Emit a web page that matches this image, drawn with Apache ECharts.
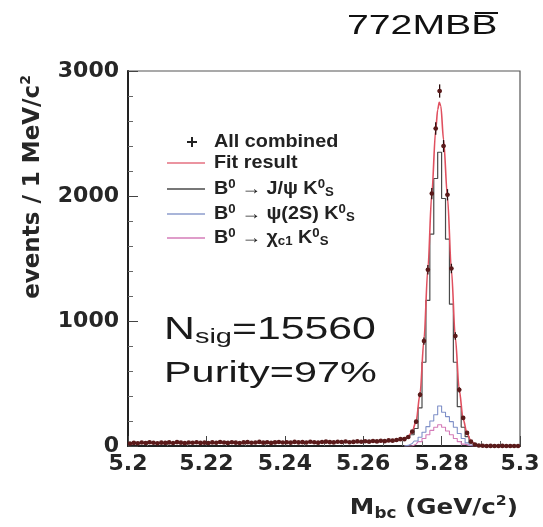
<!DOCTYPE html>
<html><head><meta charset="utf-8">
<script src="https://cdn.jsdelivr.net/npm/echarts@6/dist/echarts.min.js"></script>
<style>html,body{margin:0;padding:0;background:#fff}#c{width:543px;height:527px}</style>
</head><body><div id="c"></div>
<script>
// ---- axis setup ----
const xRange = [5.2, 5.3];
const xInterval = 0.02;
const yRange = [0, 3000];
const yInterval = 1000;

// ---- 1 MeV bins from 5.200 to 5.300 (centres) ----
const binStart = 5.2005;
const binWidth = 0.001;

// All combined (data points), 100 bins
const dataCounts = [
  20,25,22,28,24,30,26,22,27,25,
  29,24,31,27,23,28,26,30,25,27,
  24,29,26,32,28,25,30,27,24,29,
  31,26,28,33,27,30,25,29,32,28,
  30,27,33,29,31,28,34,30,27,32,
  35,31,29,34,32,36,30,33,37,34,
  38,35,40,37,42,39,45,43,48,55,
  55,72,115,195,410,840,1410,2020,2540,2840,
  2400,2010,1420,880,450,225,105,35,12,4,
  2,0,1,0,0,1,0,0,0,0
];
// statistical errors for bins 70..89 (peak region)
const peakErrors = [7,8,11,14,20,29,38,45,50,53,49,45,38,30,21,15,10,6,3,2];
const bgError = 5;

// B0 -> J/psi K0S histogram, 100 bins
const jpsiKsCounts = [
  19,24,21,26,23,28,25,21,26,24,
  27,23,29,26,22,27,25,28,24,26,
  23,28,25,30,27,24,29,26,23,28,
  29,25,27,31,26,29,24,28,30,27,
  29,26,31,28,30,27,32,29,26,31,
  33,30,28,32,31,34,29,32,35,33,
  36,34,38,35,40,37,43,41,46,52,
  52,65,90,140,305,670,1165,1695,2140,2350,
  1980,1655,1135,670,315,150,75,27,12,4,
  2,0,1,0,0,1,0,0,0,0
];

// peak-region bins for the small modes
const peakBinCenters = [5.2705,5.2715,5.2725,5.2735,5.2745,5.2755,5.2765,5.2775,5.2785,5.2795,
                        5.2805,5.2815,5.2825,5.2835,5.2845,5.2855,5.2865,5.2875,5.2885,5.2895];
const psi2SCounts = [0,5,20,40,70,110,155,200,250,320,270,235,195,150,100,60,25,8,0,0];
const chic1Counts = [0,0,0,15,35,60,90,125,150,170,150,120,90,60,35,15,5,0,0,0];

// Fit result curve
const fitX = [5.2000,5.2200,5.2400,5.2600,5.2650,5.2680,5.2695,5.2705,5.2715,5.2725,5.2735,5.2745,
              5.2755,5.2765,5.2775,5.2785,5.2790,5.2794,5.2798,5.2805,5.2815,5.2825,5.2835,5.2845,
              5.2855,5.2865,5.2875,5.2885,5.2895,5.2910,5.3000];
const fitY = [22,25,28,33,36,42,52,62,78,115,200,420,
              850,1420,2020,2530,2690,2750,2720,2450,1990,1410,870,450,
              215,100,40,12,3,0,0];

// ---- build series data ----
const binCenters = dataCounts.map((_, i) => +(binStart + i * binWidth).toFixed(4));
const pointData = dataCounts.map((v, i) => [binCenters[i], v, i >= 70 && i < 90 ? peakErrors[i - 70] : bgError]);
const jpsiData = jpsiKsCounts.map((v, i) => [binCenters[i], v]);
const psi2SData = psi2SCounts.map((v, i) => [peakBinCenters[i], v]);
const chic1Data = chic1Counts.map((v, i) => [peakBinCenters[i], v]);
const fitData = fitX.map((x, i) => [x, fitY[i]]);

const chart = echarts.init(document.getElementById('c'), null, {renderer: 'canvas'});

const labelFont = {fontFamily: 'DejaVu Sans', fontWeight: 'bold', fontSize: 22, color: '#262626'};
const legFont = 'bold 18px "Liberation Sans"';
const legY = [142, 163, 189, 214, 238];
const legText = [
  '{a|All combined}',
  '{a|Fit result}',
  '{a|B}{sup|0}{a| \u2192 J/\u03c8 K}{sup|0}{sub|S}',
  '{a|B}{sup|0}{a| \u2192 \u03c8(2S) K}{sup|0}{sub|S}',
  '{a|B}{sup|0}{a| \u2192 \u03c7}{sub|c1}{a| K}{sup|0}{sub|S}'
];
const legColors = [null, '#e57080', '#4a4a4a', '#8d9ccc', '#d47cb8'];
const legRich = {
  a: {font: legFont, fill: '#222', lineHeight: 20},
  sup: {font: 'bold 12px "Liberation Sans"', fill: '#222', lineHeight: 12, verticalAlign: 'top'},
  sub: {font: 'bold 12px "Liberation Sans"', fill: '#222', lineHeight: 12, verticalAlign: 'bottom'}
};

const graphics = [];
// legend
legY.forEach((y, i) => {
  if (i === 0) {
    graphics.push({type: 'line', shape: {x1: 187, y1: y, x2: 197, y2: y}, style: {stroke: '#222', lineWidth: 2}});
    graphics.push({type: 'line', shape: {x1: 192, y1: y - 5, x2: 192, y2: y + 5}, style: {stroke: '#222', lineWidth: 2}});
  } else {
    graphics.push({type: 'line', shape: {x1: 167, y1: y, x2: 205, y2: y}, style: {stroke: legColors[i], lineWidth: 1.3}});
  }
  graphics.push({type: 'text', x: 214, y: y, scaleX: 1.1,
    style: {text: legText[i], rich: legRich, font: legFont, fill: '#222', textVerticalAlign: 'middle', textAlign: 'left'}});
});
// title
graphics.push({type: 'text', x: 347, y: 40, scaleX: 1.4,
  style: {text: '772MBB', font: '28px "Liberation Sans"', fill: '#111', textAlign: 'left', textVerticalAlign: 'bottom'}});
graphics.push({type: 'line', shape: {x1: 475, y1: 13, x2: 498, y2: 13}, style: {stroke: '#111', lineWidth: 2}});
// N_sig / Purity
graphics.push({type: 'text', x: 164, y: 330, scaleX: 1.38,
  style: {text: '{a|N}{sub|sig}{a|=15560}', font: '31px "Liberation Sans"', fill: '#1a1a1a',
    textVerticalAlign: 'middle', textAlign: 'left',
    rich: {a: {font: '31px "Liberation Sans"', fill: '#1a1a1a', lineHeight: 36},
           sub: {font: '21px "Liberation Sans"', fill: '#1a1a1a', lineHeight: 21, verticalAlign: 'bottom'}}}});
graphics.push({type: 'text', x: 164, y: 374, scaleX: 1.38,
  style: {text: 'Purity=97%', font: '30px "Liberation Sans"', fill: '#1a1a1a', textVerticalAlign: 'middle', textAlign: 'left'}});
// axis titles
graphics.push({type: 'text', x: 33, y: 187, rotation: Math.PI / 2,
  style: {text: '{a|events / 1 MeV/c}{sup|2}', font: 'bold 23px "DejaVu Sans"', fill: '#262626',
    textAlign: 'center', textVerticalAlign: 'middle',
    rich: {a: {font: 'bold 23px "DejaVu Sans"', fill: '#262626', lineHeight: 27},
           sup: {font: 'bold 14px "DejaVu Sans"', fill: '#262626', lineHeight: 14, verticalAlign: 'top'}}}});
graphics.push({type: 'text', x: 518, y: 508, scaleX: 1.12,
  style: {text: '{a|M}{sub|bc}{a| (GeV/c}{sup|2}{a|)}', font: 'bold 22px "DejaVu Sans"', fill: '#262626',
    textAlign: 'right', textVerticalAlign: 'middle',
    rich: {a: {font: 'bold 22px "DejaVu Sans"', fill: '#262626', lineHeight: 27},
           sub: {font: 'bold 15px "DejaVu Sans"', fill: '#262626', lineHeight: 15, verticalAlign: 'bottom'},
           sup: {font: 'bold 14px "DejaVu Sans"', fill: '#262626', lineHeight: 14, verticalAlign: 'top'}}}});

const option = {
  animation: false,
  backgroundColor: '#ffffff',
  grid: {left: 128, right: 23, top: 71, bottom: 81, show: true, borderColor: '#555', borderWidth: 1.2, backgroundColor: 'transparent'},
  xAxis: {
    type: 'value', min: xRange[0], max: xRange[1], interval: xInterval,
    axisLine: {show: true, lineStyle: {color: '#222', width: 2}},
    axisTick: {show: true, inside: true, length: 10, lineStyle: {color: '#444', width: 1}},
    minorTick: {show: true, splitNumber: 4, length: 5, lineStyle: {color: '#666'}},
    splitLine: {show: false},
    axisLabel: Object.assign({margin: 7, formatter: v => String(+v.toFixed(2))}, labelFont)
  },
  yAxis: {
    type: 'value', min: yRange[0], max: yRange[1], interval: yInterval,
    axisLine: {show: true, lineStyle: {color: '#222', width: 2}},
    axisTick: {show: true, inside: true, length: 10, lineStyle: {color: '#444', width: 1}},
    minorTick: {show: true, splitNumber: 5, length: 5, lineStyle: {color: '#666'}},
    splitLine: {show: false},
    axisLabel: Object.assign({margin: 9, formatter: v => String(v)}, labelFont)
  },
  series: [
    {name: 'B0 -> chi_c1 K0S', type: 'line', step: 'middle', data: chic1Data, symbol: 'none',
     lineStyle: {color: '#d47cb8', width: 1.1}, z: 2},
    {name: 'B0 -> psi(2S) K0S', type: 'line', step: 'middle', data: psi2SData, symbol: 'none',
     lineStyle: {color: '#7f90c8', width: 1.1}, z: 2},
    {name: 'B0 -> J/psi K0S', type: 'line', step: 'middle', data: jpsiData, symbol: 'none',
     lineStyle: {color: '#4a4a4a', width: 1.2}, z: 3},
    {name: 'Fit result', type: 'line', data: fitData, symbol: 'none', smooth: 0.3, smoothMonotone: 'x',
     lineStyle: {color: '#e0505f', width: 1.6}, z: 4},
    {name: 'All combined', type: 'custom', z: 5, data: pointData,
     renderItem: function (params, api) {
       const x = api.value(0), y = api.value(1), e = api.value(2);
       const c = api.coord([x, y]);
       const t = api.coord([x, y + e]);
       const b = api.coord([x, Math.max(0, y - e)]);
       const l = api.coord([x - binWidth / 2, y]);
       const r = api.coord([x + binWidth / 2, y]);
       return {type: 'group', children: [
         {type: 'line', shape: {x1: l[0], y1: c[1], x2: r[0], y2: c[1]}, style: {stroke: '#3a1212', lineWidth: 1.3}},
         {type: 'line', shape: {x1: c[0], y1: t[1], x2: c[0], y2: b[1]}, style: {stroke: '#2a0d0d', lineWidth: 1.3}},
         {type: 'circle', shape: {cx: c[0], cy: c[1], r: 2.3}, style: {fill: '#5a1a1a'}}
       ]};
     }}
  ],
  graphic: graphics
};
chart.setOption(option);
</script>
</body></html>
